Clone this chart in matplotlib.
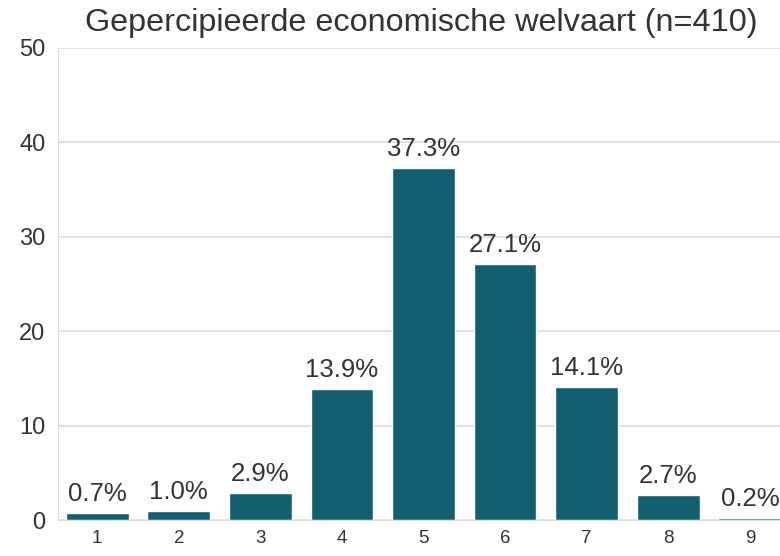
import matplotlib.pyplot as plt
import seaborn as sns

scores = [1, 2, 3, 4, 5, 6, 7, 8, 9]
percentages = [0.7, 1.0, 2.9, 13.9, 37.3, 27.1, 14.1, 2.7, 0.2]
title = 'Gepercipieerde economische welvaart (n=410)'

sns.set_style('whitegrid')
plt.rcParams['font.family'] = ['Liberation Sans', 'DejaVu Sans']

fig = plt.figure(figsize=(7.8, 5.56), dpi=100)
ax = fig.add_axes([0.0744, 0.0647, 0.9256, 0.849])

bars = ax.bar(scores, percentages, width=0.77, color='#125f70')
for x, v in zip(scores, percentages):
    ax.annotate(f'{v:.1f}%', (x, v), xytext=(0, 5), textcoords='offset points',
                ha='center', va='bottom', fontsize=18.5, color='#333333')

ax.set_xlim(0.52, 9.37)
ax.set_ylim(0, 50)
ax.set_yticks([0, 10, 20, 30, 40, 50])
ax.set_xticks(scores)
ax.tick_params(axis='y', labelsize=17, colors='#333333', length=0, pad=9)
ax.tick_params(axis='x', labelsize=13.5, colors='#333333', length=0, pad=7)
ax.grid(axis='x', visible=False)
ax.grid(axis='y', color='#dddddd', linewidth=1.2)
for side in ['top', 'right']:
    ax.spines[side].set_visible(False)
for side in ['left', 'bottom']:
    ax.spines[side].set_color('#dddddd')
ax.set_axisbelow(True)

fig.text(0.54, 0.958, title, ha='center', va='center', fontsize=23.3, color='#333333')

fig.savefig('out.png', dpi=100)
